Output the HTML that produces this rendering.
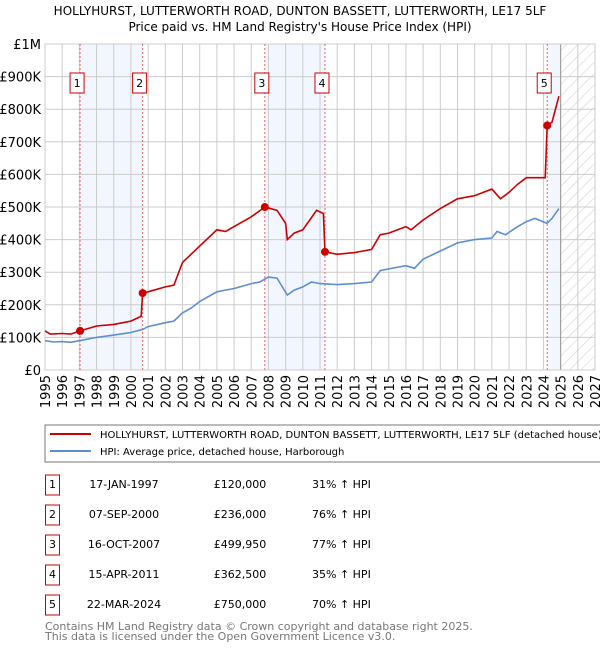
<!DOCTYPE html>
<html><head><meta charset="utf-8"><style>
body{margin:0;background:#fff;font-family:"Liberation Sans","DejaVu Sans",sans-serif;}
svg text{font-family:"DejaVu Sans","Liberation Sans",sans-serif;}
</style></head><body>
<svg id="c" width="600" height="650" viewBox="0 0 600 650" xmlns="http://www.w3.org/2000/svg">
<defs><pattern id="hatch" patternUnits="userSpaceOnUse" width="8" height="8" patternTransform="rotate(45)"><line x1="0" y1="0" x2="0" y2="8" stroke="#ccc" stroke-width="1"/></pattern></defs>
<text x="300" y="15" text-anchor="middle" font-size="12">HOLLYHURST, LUTTERWORTH ROAD, DUNTON BASSETT, LUTTERWORTH, LE17 5LF</text>
<text x="300" y="31" text-anchor="middle" font-size="12">Price paid vs. HM Land Registry's House Price Index (HPI)</text>
<g id="plot"></g>
<g id="legend">
<rect x="45" y="425" width="570" height="37" fill="#fff" stroke="#777"/>
<line x1="50" y1="434" x2="91" y2="434" stroke="#cc0000" stroke-width="2"/>
<text x="100" y="438" font-size="10">HOLLYHURST, LUTTERWORTH ROAD, DUNTON BASSETT, LUTTERWORTH, LE17 5LF (detached house)</text>
<line x1="50" y1="451" x2="91" y2="451" stroke="#5b8fd0" stroke-width="2"/>
<text x="100" y="455" font-size="10">HPI: Average price, detached house, Harborough</text>
</g>
<g id="table"></g>
<text x="45" y="630" font-size="11" fill="#777">Contains HM Land Registry data © Crown copyright and database right 2025.</text>
<text x="45" y="640" font-size="11" fill="#777">This data is licensed under the Open Government Licence v3.0.</text>
</svg>
<script>
const yTicks=[0,100,200,300,400,500,600,700,800,900,1000];
const yTickLabels=["£0","£100K","£200K","£300K","£400K","£500K","£600K","£700K","£800K","£900K","£1M"];
const years=[1995,1996,1997,1998,1999,2000,2001,2002,2003,2004,2005,2006,2007,2008,2009,2010,2011,2012,2013,2014,2015,2016,2017,2018,2019,2020,2021,2022,2023,2024,2025,2026,2027];
const hpiT=[1995,1995.5,1996,1996.5,1997,1998,1999,2000,2000.7,2001,2002,2002.5,2003,2003.5,2004,2005,2005.5,2006,2007,2007.5,2008,2008.5,2009.1,2009.5,2010,2010.5,2011,2012,2013,2014,2014.5,2015,2016,2016.5,2017,2018,2019,2020,2021,2021.3,2021.8,2022.5,2023,2023.5,2024.2,2024.5,2024.9];
const hpiV=[90,86,87,85,90,100,107,115,125,133,145,150,175,190,210,240,245,250,265,270,285,282,230,245,255,270,265,262,265,270,305,310,320,312,340,365,390,400,405,425,415,440,455,465,450,465,495];
const redT=[1995,1995.3,1996,1996.5,1997.04,1998,1999,2000,2000.6,2000.68,2001,2002,2002.5,2003,2004,2005,2005.5,2006,2007,2007.79,2008.5,2009,2009.1,2009.5,2010,2010.8,2011.2,2011.29,2012,2013,2014,2014.5,2015,2016,2016.3,2017,2018,2019,2020,2021,2021.5,2022,2022.5,2023,2024.1,2024.22,2024.5,2024.9];
const redV=[120,110,112,110,120,135,140,150,165,236,240,255,260,330,380,430,425,440,470,500,490,450,400,420,430,490,480,362.5,355,360,370,415,420,440,430,460,495,525,535,555,525,545,570,590,590,750,760,840];
const saleT=[1997.04,2000.68,2007.79,2011.29,2024.22];
const saleV=[120,236,499.95,362.5,750];
const saleDates=["17-JAN-1997","07-SEP-2000","16-OCT-2007","15-APR-2011","22-MAR-2024"];
const salePrices=["£120,000","£236,000","£499,950","£362,500","£750,000"];
const saleHpi=["31% ↑ HPI","76% ↑ HPI","77% ↑ HPI","35% ↑ HPI","70% ↑ HPI"];
const NS="http://www.w3.org/2000/svg";
const X0=45,X1=595,Y0=370,Y1=44;
function x(t){return X0+(t-1995)/(2027-1995)*(X1-X0);}
function y(v){return Y0-v/1000*(Y0-Y1);}
function mk(tag,at,parent){const e=document.createElementNS(NS,tag);for(const k in at)e.setAttribute(k,at[k]);parent.appendChild(e);return e;}
const P=document.getElementById('plot');
[[saleT[0],saleT[1]],[saleT[2],saleT[3]],[saleT[4],2025]].forEach((r,i)=>{
 const e=mk('rect',{x:x(r[0]),y:Y1,width:x(r[1])-x(r[0]),height:Y0-Y1,fill:'#f2f6fe'},P);
 
 
});
const h=mk('rect',{x:x(2025),y:Y1,width:X1-x(2025),height:Y0-Y1,fill:'url(#hatch)'},P);


yTicks.forEach((v,i)=>{
 mk('line',{x1:X0,x2:X1,y1:y(v),y2:y(v),stroke:'#ccc'},P);
 const t=mk('text',{x:X0-4,y:y(v)+5,'text-anchor':'end','font-size':13},P);
 t.textContent=yTickLabels[i];
 
 
});
years.forEach(yr=>{
 mk('line',{x1:x(yr),x2:x(yr),y1:Y1,y2:Y0,stroke:'#ccc'},P);
 const t=mk('text',{x:0,y:0,'text-anchor':'end','font-size':13,transform:`translate(${x(yr)+5},${Y0+5}) rotate(-90)`},P);
 t.textContent=yr;
 
 
});
mk('line',{x1:x(2025),x2:x(2025),y1:Y1,y2:Y0,stroke:'#999'},P);
mk('rect',{x:X0,y:Y1,width:X1-X0,height:Y0-Y1,fill:'none',stroke:'#ccc'},P);
saleT.forEach((t,i)=>{
 mk('line',{x1:x(t),x2:x(t),y1:Y1,y2:Y0,stroke:'#f06060','stroke-dasharray':'2,2'},P);
 const b=mk('rect',{x:x(t)-10,y:73,width:14,height:20,fill:'#fff',stroke:'#cc0000'},P);
 
 
 const tt=mk('text',{x:x(t)-3,y:87,'text-anchor':'middle','font-size':11},P);
 tt.textContent=i+1;
});
function line(T,V,col,name){
 let d='';T.forEach((t,i)=>{d+=(i?'L':'M')+x(t).toFixed(1)+','+y(V[i]).toFixed(1);});
 const e=mk('path',{d:d,fill:'none',stroke:col,'stroke-width':1.6},P);
 
 
}
line(hpiT,hpiV,'#5b8fd0','hpi-line');
line(redT,redV,'#cc0000','price-line');
saleT.forEach((t,i)=>{
 const c=mk('circle',{cx:x(t),cy:y(saleV[i]),r:4,fill:'#cc0000'},P);
 
 
});
const T=document.getElementById('table');
saleDates.forEach((d,i)=>{
 const cy=485+i*30;
 const g=mk('g',{},T);
 
 
 mk('rect',{x:45.5,y:cy-10,width:14,height:20,fill:'#fff',stroke:'#cc0000'},g);
 let t=mk('text',{x:52.5,y:cy+3,'text-anchor':'middle','font-size':11},g);t.textContent=i+1;
 t=mk('text',{x:124,y:cy+3,'text-anchor':'middle','font-size':11},g);t.textContent=d;
 t=mk('text',{x:240,y:cy+3,'text-anchor':'middle','font-size':11},g);t.textContent=salePrices[i];
 t=mk('text',{x:312,y:cy+3,'font-size':11},g);t.textContent=saleHpi[i];
});
</script>
</body></html>
